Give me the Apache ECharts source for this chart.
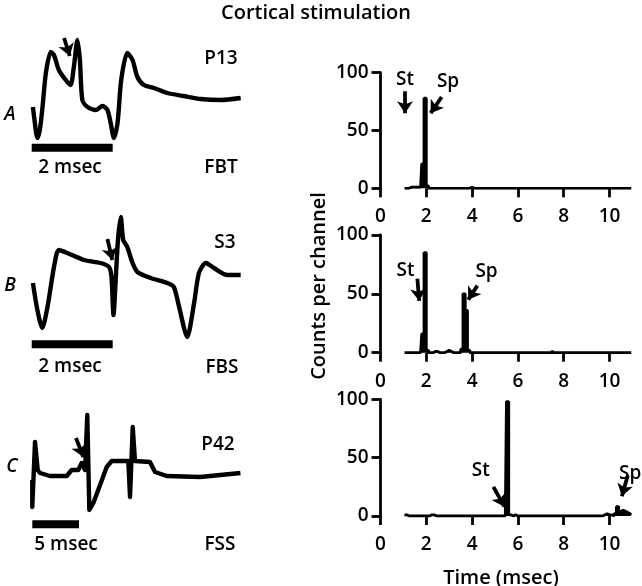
<!DOCTYPE html>
<html><head><meta charset="utf-8">
<script src="https://cdn.jsdelivr.net/npm/echarts@6/dist/echarts.min.js"></script>
<style>html,body{margin:0;padding:0;background:#fff}#c{width:642px;height:586px}</style>
</head><body><div id="c"></div>
<script>
// ---------- Data ----------
// Left: averaged recorded waveforms (time in ms, amplitude in arbitrary units)
const traceA_t = [0.03,0.06,0.14,0.20,0.26,0.35,0.47,0.55,0.67,0.84,0.96,1.04,1.13,1.19,1.25,1.38,1.58,1.75,1.87,1.95,2.03,2.12,2.21,2.36,2.49,2.61,2.77,3.02,3.35,3.75,4.17,4.67,5.16];
const traceA_v = [-17,-27,-48,-40,-20,17,38,35,20,10,5,23,50,30,-10,-17,-20,-16,-20,-33,-48,-33,10,37,30,13,5,2,-3,-6,-9,-10,-8];
const traceB_t = [0.03,0.14,0.26,0.39,0.55,0.67,0.88,1.29,1.70,1.91,1.97,2.02,2.07,2.13,2.20,2.26,2.36,2.49,2.61,2.94,3.35,3.51,3.64,3.84,4.01,4.13,4.30,4.50,4.83,5.16];
const traceB_v = [-3,-30,-48,-27,13,30,27,20,17,13,3,-35,-3,40,63,40,33,17,8,2,-3,-7,-27,-57,-23,7,17,12,5,5];
const traceC_t = [0,0,0.29,0.58,0.83,1.9,3.69,4.22,4.93,5.29,5.65,5.89,6.11,6.54,7.26,7.97,8.51,10.29,10.47,10.76,11.0,12.6,13.15,14.4,18.0,22.3];
const traceC_v = [-10,-37,28,0,-3,-6,-6,0,0,7,0,55,-40,-33,-15,3,9,9,-27,43,9,8,-2,-6,-7,-3];
const scaleBarsMs = [2, 2, 5];
const traceNames = ['P13','S3','P42'];
const cellTypes = ['FBT','FBS','FSS'];
const panelLetters = ['A','B','C'];

// Right: post-stimulus histograms, 100 channels of 0.1 ms from 1.0 to 11.0 ms
const hist1 = [0,0,0,1,1,1,1,1,21,78, 2,0,0,0,0,0,0,0,0,0, 0,0,0,0,0,0,0,0,0,1, 0,0,0,0,0,0,0,0,0,0, 0,0,0,0,0,0,0,0,0,0, 0,0,0,0,0,0,0,0,0,0, 0,0,0,0,0,0,0,0,0,0, 0,0,0,0,0,0,0,0,0,0, 0,0,0,0,0,0,0,0,0,0, 0,0,0,0,0,0,0,0,0,0];
const hist2 = [0,0,0,0,0,0,0,0,16,85, 2,0,0,1,1,0,0,0,1,2, 1,0,0,0,0,3,50,36,2,0, 0,0,0,0,0,0,0,0,0,0, 0,0,0,0,0,0,0,0,0,0, 0,0,0,0,0,0,0,0,0,0, 0,0,0,0,1,0,0,0,0,0, 0,0,0,0,0,0,0,0,0,0, 0,0,0,0,0,0,0,0,0,0, 0,0,0,0,0,0,0,0,0,0];
const hist3 = [1,1,0,0,0,0,0,0,0,0, 0,0,1,1,0,0,0,0,0,0, 0,0,0,0,0,0,0,0,0,0, 0,0,0,0,0,0,0,0,0,0, 0,0,0,0,0,98,1,0,1,0, 0,0,0,0,0,0,0,0,0,0, 0,0,0,0,0,0,0,0,0,0, 0,0,0,0,0,0,0,0,0,0, 0,0,0,0,0,0,0,1,2,1, 1,0,2,8,4,5,4,3,2,1];
const channelStart = 1.0, channelWidth = 0.1;
const xTicks = [0,2,4,6,8,10];
const yTicks = [0,50,100];
// annotations: [label, x, y] and arrows [x1,y1,x2,y2]
const hist1Labels = [['St',1.07,94],['Sp',2.95,92]];
const hist2Labels = [['St',1.09,70],['Sp',4.63,69]];
const hist3Labels = [['St',4.38,39],['Sp',10.9,36]];
const hist1Arrows = [[1.07,84,1.07,65],[2.67,79,2.19,65]];
const hist2Arrows = [[1.61,63,1.69,44],[4.23,57,3.83,45]];
const hist3Arrows = [[4.93,25,5.41,8],[10.8,35,10.54,17]];
const traceAArrow = [[0.80,52,0.94,34]];
const traceBArrow = [[1.87,41,1.99,20]];
const traceCArrow = [[4.68,32,5.47,13]];

// ---------- Chart ----------
const FONT = 'Open Sans';
const FW = '600';
const chart = echarts.init(document.getElementById('c'), null, {renderer:'canvas'});
const pairs = (t, v) => t.map((x, i) => [x, v[i]]);
const histData = h => h.map((c, i) => [channelStart + channelWidth * (i + 0.5), c]);

const grids = [
  {left:31.7, top:10, width:210.6, height:160},
  {left:31.7, top:200, width:210.6, height:160},
  {left:32.3, top:390, width:210, height:160},
  {left:380.5, top:72.7, width:251.9, height:115.6},
  {left:380.5, top:235, width:251.9, height:117.7},
  {left:380.5, top:399.3, width:251.9, height:116.7}
];
const traceMax = [5.2, 5.2, 22.5];
const xAxes = [], yAxes = [];
for (let i = 0; i < 3; i++) {
  xAxes.push({gridIndex:i, type:'value', min:0, max:traceMax[i], show:false});
  yAxes.push({gridIndex:i, type:'value', min:-80, max:80, show:false});
}
for (let i = 3; i < 6; i++) {
  xAxes.push({gridIndex:i, type:'value', min:0, max:11,
    axisLine:{show:false},
    axisTick:{show:true, customValues:xTicks, length:9, lineStyle:{color:'#000', width:2.8}},
    axisLabel:{customValues:xTicks, margin:19, color:'#000', fontSize:19, fontWeight:FW, fontFamily:FONT},
    splitLine:{show:false}});
  yAxes.push({gridIndex:i, type:'value', min:0, max:100, interval:50,
    axisLine:{show:true, lineStyle:{color:'#000', width:2.8}},
    axisTick:{show:true, length:9, lineStyle:{color:'#000', width:2.8}},
    axisLabel:{margin:12, color:'#000', fontSize:19, fontWeight:FW, fontFamily:FONT},
    splitLine:{show:false}});
}

const series = [];
const traces = [pairs(traceA_t, traceA_v), pairs(traceB_t, traceB_v), pairs(traceC_t, traceC_v)];
const smooth = [0.25, 0.25, 0];
const barLevel = [-57.7, -64.3, -54.3];
const traceArrows = [traceAArrow, traceBArrow, traceCArrow];
traces.forEach((d, i) => {
  series.push({type:'line', xAxisIndex:i, yAxisIndex:i, data:d, symbol:'none', smooth:smooth[i],
    lineStyle:{color:'#000', width:4.4, join:'round'}, silent:true, animation:false});
  series.push({type:'line', xAxisIndex:i, yAxisIndex:i, data:[[0, barLevel[i]],[scaleBarsMs[i], barLevel[i]]],
    symbol:'none', lineStyle:{color:'#000', width:8, cap:'butt'}, animation:false});
  series.push({type:'lines', coordinateSystem:'cartesian2d', xAxisIndex:i, yAxisIndex:i,
    symbol:['none','arrow'], symbolSize:[11,12],
    lineStyle:{color:'#000', width:3.8, opacity:1, curveness:0},
    data: traceArrows[i].map(a => ({coords:[[a[0],a[1]],[a[2],a[3]]]})), animation:false});
});
const hists = [hist1, hist2, hist3];
const hLabels = [hist1Labels, hist2Labels, hist3Labels];
const hArrows = [hist1Arrows, hist2Arrows, hist3Arrows];
hists.forEach((h, k) => {
  const i = k + 3;
  series.push({type:'line', xAxisIndex:i, yAxisIndex:i, data:histData(h), step:'middle', symbol:'none',
    lineStyle:{color:'#000', width:2.8}, areaStyle:{color:'#000', opacity:1}, animation:false});
  series.push({type:'lines', coordinateSystem:'cartesian2d', xAxisIndex:i, yAxisIndex:i,
    symbol:['none','arrow'], symbolSize:[11,12],
    lineStyle:{color:'#000', width:3.8, opacity:1, curveness:0},
    data: hArrows[k].map(a => ({coords:[[a[0],a[1]],[a[2],a[3]]]})), animation:false});
  series.push({type:'scatter', xAxisIndex:i, yAxisIndex:i, symbolSize:0,
    itemStyle:{opacity:1},
    data: hLabels[k].map(l => ({name:l[0], value:[l[1], l[2]]})),
    label:{show:true, position:'inside', formatter:'{b}', color:'#000', opacity:1, fontSize:19, fontWeight:FW, fontFamily:FONT},
    animation:false});
});

function txt(s, x, y, extra) {
  return {type:'text', x:x, y:y, style:Object.assign({text:s, fill:'#000', font:FW + ' 19px "' + FONT + '"',
    textAlign:'center', textVerticalAlign:'middle'}, extra || {})};
}
const graphic = [
  txt('Cortical stimulation', 316, 13, {font:FW + ' 20px "' + FONT + '"'}),
  Object.assign(txt('Counts per channel', 0, 0, {font:FW + ' 20px "' + FONT + '"'}), {x:319, y:286, rotation:Math.PI/2}),
  txt('Time (msec)', 501, 578, {font:FW + ' 20px "' + FONT + '"'}),
  txt(panelLetters[0], 10, 115, {font:'italic ' + FW + ' 19px "' + FONT + '"'}),
  txt(panelLetters[1], 10, 286, {font:'italic ' + FW + ' 19px "' + FONT + '"'}),
  txt(panelLetters[2], 12, 467, {font:'italic ' + FW + ' 19px "' + FONT + '"'}),
  txt(traceNames[0], 221, 59), txt(cellTypes[0], 221, 168), txt(scaleBarsMs[0] + ' msec', 70, 168),
  txt(traceNames[1], 225, 243), txt(cellTypes[1], 222, 368), txt(scaleBarsMs[1] + ' msec', 70, 367),
  txt(traceNames[2], 218, 445), txt(cellTypes[2], 220, 545), txt(scaleBarsMs[2] + ' msec', 66, 545)
];

chart.setOption({
  backgroundColor:'#fff',
  animation:false,
  grid:grids, xAxis:xAxes, yAxis:yAxes, series:series, graphic:graphic
});
</script></body></html>
